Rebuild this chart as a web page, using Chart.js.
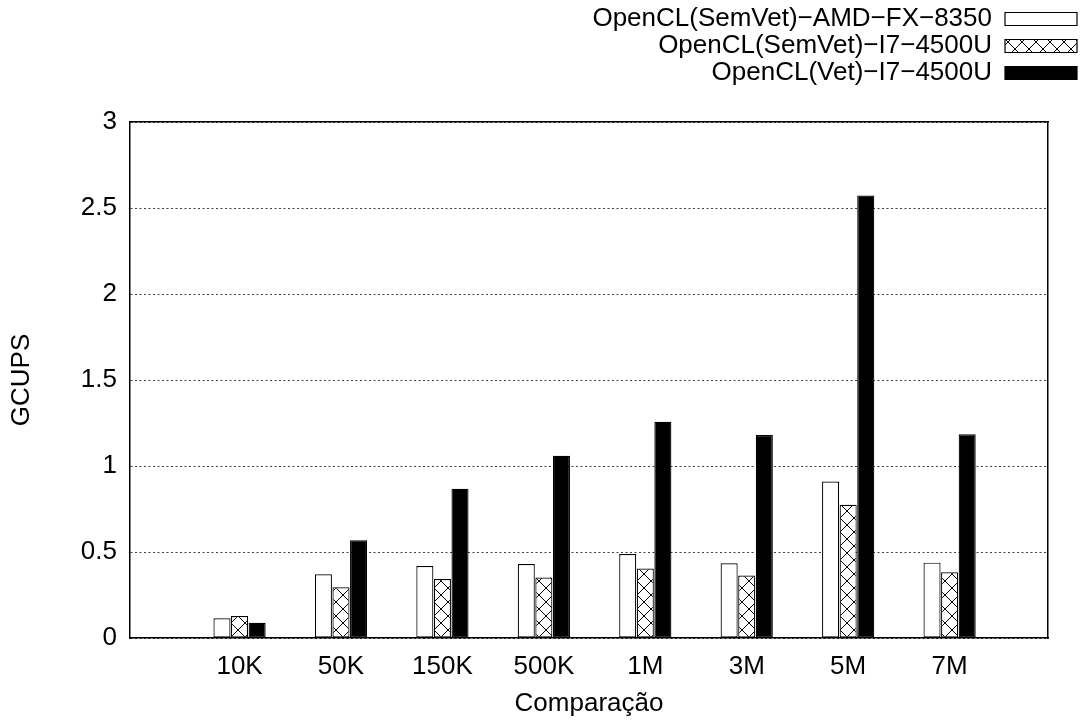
<!DOCTYPE html>
<html>
<head>
<meta charset="utf-8">
<script src="https://cdn.jsdelivr.net/npm/chart.js@4/dist/chart.umd.min.js"></script>
<style>
  body { margin: 0; background: #fff; }
</style>
</head>
<body>
<canvas id="myChart" width="1083" height="720"></canvas>
<script>
// valeurs (GCUPS)
var categories = ['10K', '50K', '150K', '500K', '1M', '3M', '5M', '7M'];
var amdSemVet = [0.115, 0.37, 0.418, 0.43, 0.488, 0.435, 0.91, 0.438];
var i7SemVet = [0.128, 0.295, 0.343, 0.352, 0.404, 0.363, 0.775, 0.382];
var i7Vet = [0.088, 0.569, 0.868, 1.06, 1.257, 1.18, 2.573, 1.185];
var yTicks = [0, 0.5, 1, 1.5, 2, 2.5, 3];
var seriesNames = ['OpenCL(SemVet)−AMD−FX−8350', 'OpenCL(SemVet)−I7−4500U', 'OpenCL(Vet)−I7−4500U'];

// categories sit at x = 0..7, gnuplot-like empty space around them
function points(a) {
    return a.map(function(v, i) { return { x: i, y: v }; });
}

// crosshatch fill
function crossHatch() {
    var c = document.createElement('canvas');
    c.width = 14; c.height = 14;
    var g = c.getContext('2d');
    g.fillStyle = '#fff';
    g.fillRect(0, 0, 14, 14);
    g.strokeStyle = '#000';
    g.lineWidth = 1;
    g.beginPath();
    g.moveTo(0, 0); g.lineTo(14, 14);
    g.moveTo(14, 0); g.lineTo(0, 14);
    g.stroke();
    return g.createPattern(c, 'repeat');
}

Chart.defaults.font.family = '"Liberation Sans", Arial, sans-serif';
Chart.defaults.font.size = 26;
Chart.defaults.color = '#000';

// put the legend in the top right corner, one entry per line
var legendPlace = {
    id: 'legendPlace',
    afterLayout: function(chart) {
        var lg = chart.legend;
        lg.left = 560;
        lg.right = 1078;
        lg.width = lg.right - lg.left;
        lg.top = 5;
        lg.bottom = 100;
        lg.height = lg.bottom - lg.top;
    }
};

var frame = {color: '#000', width: 1.5};

var ctx = document.getElementById('myChart').getContext('2d');
var myChart = new Chart(ctx, {
    type: 'bar',
    data: {
        datasets: [{
            label: seriesNames[0],
            data: points(amdSemVet),
            backgroundColor: '#fff',
            borderColor: '#000',
            borderWidth: 1.2,
            borderSkipped: false
        }, {
            label: seriesNames[1],
            data: points(i7SemVet),
            backgroundColor: crossHatch(),
            borderColor: '#000',
            borderWidth: 1.2,
            borderSkipped: false
        }, {
            label: seriesNames[2],
            data: points(i7Vet),
            backgroundColor: '#000',
            borderColor: '#000',
            borderWidth: 1.2,
            borderSkipped: false
        }]
    },
    options: {
        responsive: false,
        animation: false,
        events: [],
        devicePixelRatio: 1,
        datasets: {
            bar: { categoryPercentage: 0.52, barPercentage: 0.97 }
        },
        plugins: {
            tooltip: { enabled: false },
            legend: {
                position: 'top',
                align: 'start',
                rtl: true,
                labels: {
                    boxWidth: 72,
                    boxHeight: 13,
                    padding: 1,
                    color: '#000'
                }
            }
        },
        scales: {
            x: {
                type: 'linear',
                position: 'bottom',
                min: -1.08,
                max: 7.97,
                offset: false,
                afterBuildTicks: function(s) {
                    s.ticks = categories.map(function(c, i) { return { value: i }; });
                },
                grid: { display: false },
                border: frame,
                ticks: {
                    autoSkip: false,
                    maxRotation: 0,
                    padding: 5,
                    callback: function(v) { return categories[v]; }
                },
                title: { display: true, text: 'Comparação', padding: { top: 0, bottom: 1 } },
                afterFit: function(s) { s.height = 82; }
            },
            x2: {
                type: 'linear',
                position: 'top',
                min: 0,
                max: 1,
                grid: { display: false },
                ticks: { display: false },
                border: frame,
                afterFit: function(s) { s.height = 122 - s.chart.legend.height; }
            },
            y: {
                min: 0,
                max: 3,
                afterBuildTicks: function(s) {
                    s.ticks = yTicks.map(function(v) { return { value: v }; });
                },
                grid: { color: 'rgba(0,0,0,0.75)', lineWidth: 1, drawTicks: false },
                border: { color: '#000', width: 1.5, dash: [2, 2.5] },
                ticks: {
                    padding: 13,
                    callback: function(v) { return String(v); }
                },
                title: { display: true, text: 'GCUPS', padding: { top: 6, bottom: 0 } },
                afterFit: function(s) { s.width = 130; }
            },
            y2: {
                position: 'right',
                min: 0,
                max: 3,
                grid: { display: false },
                ticks: { display: false },
                border: frame,
                afterFit: function(s) { s.width = 35; }
            }
        }
    },
    plugins: [legendPlace]
});
</script>
</body>
</html>
